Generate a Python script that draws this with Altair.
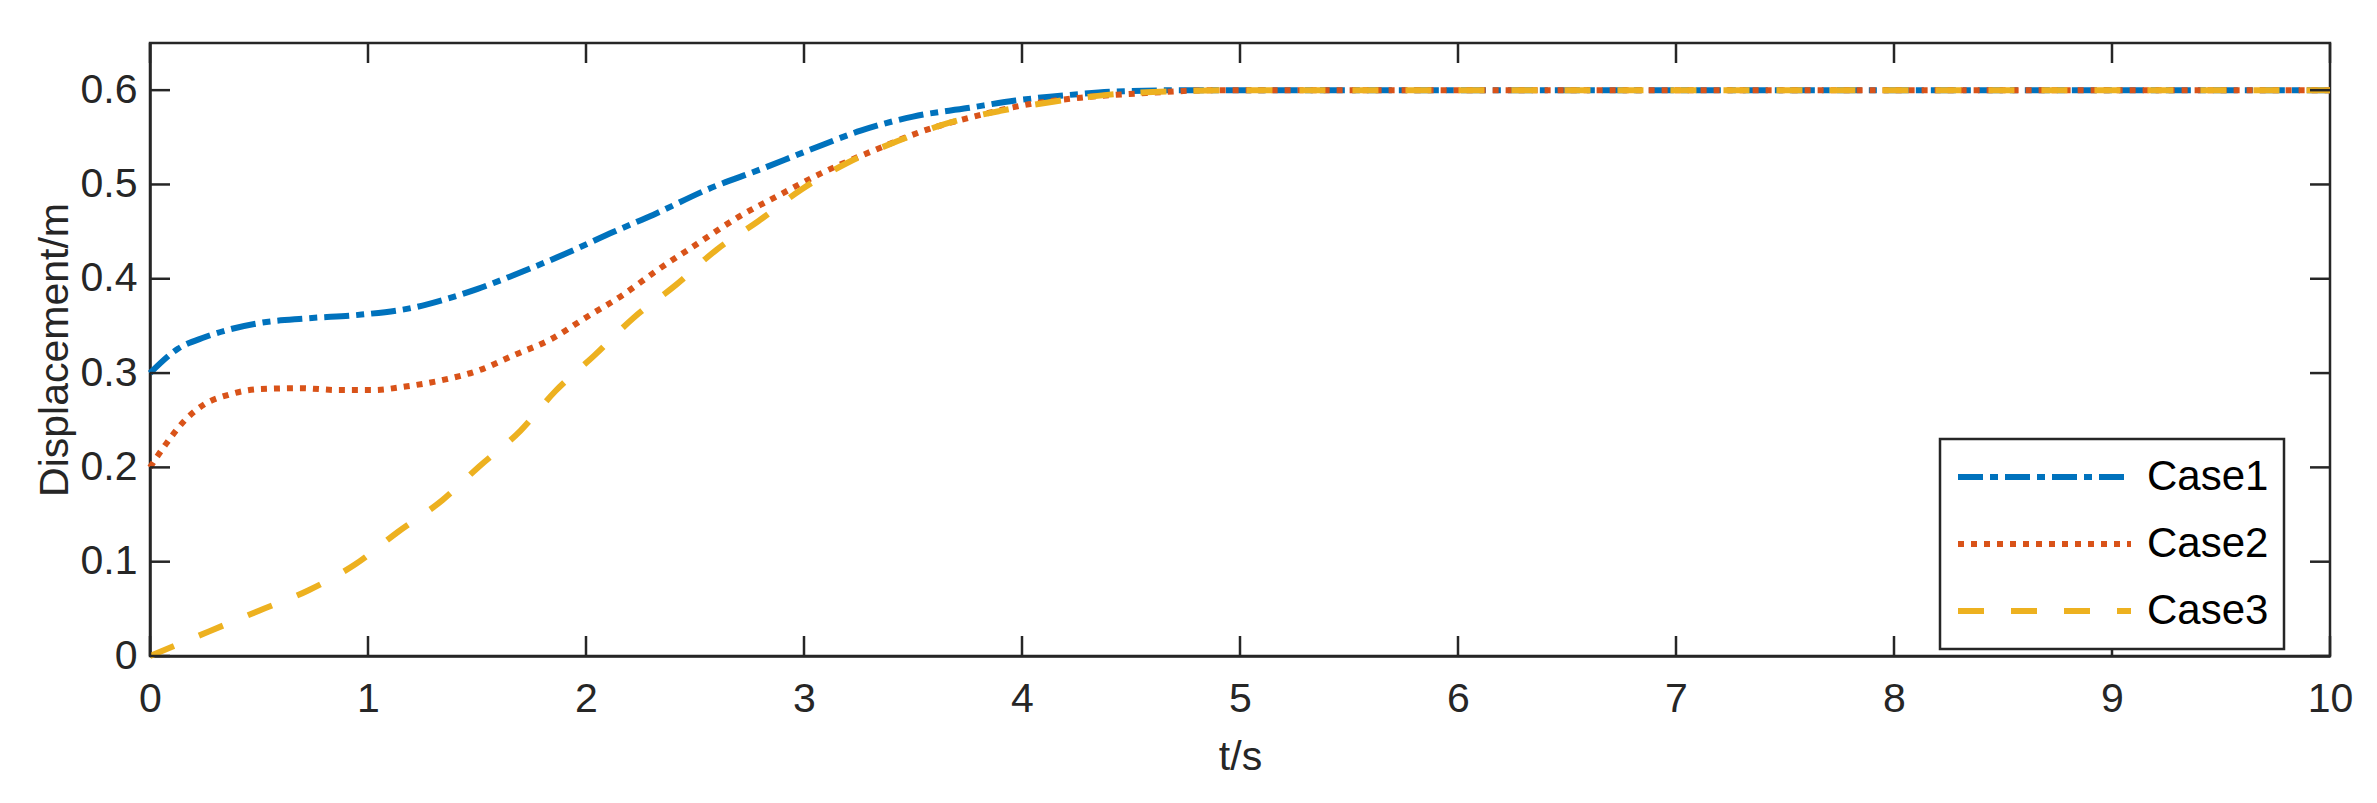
import altair as alt
import pandas as pd

# ---- data ----
case_names = ["Case1", "Case2", "Case3"]

case1_t = [0, 0.13, 0.25, 0.36, 0.5, 0.72, 0.97, 1.22, 1.35, 1.5, 1.67, 1.9, 2.13, 2.31,
           2.56, 2.8, 3.03, 3.26, 3.5, 3.75, 3.97, 4.22, 4.48, 4.8, 10]
case1_v = [0.300, 0.326, 0.338, 0.346, 0.353, 0.358, 0.362, 0.370, 0.378, 0.389, 0.404,
           0.426, 0.450, 0.468, 0.495, 0.516, 0.537, 0.557, 0.572, 0.581, 0.589, 0.595,
           0.599, 0.600, 0.600]

case2_t = [0, 0.08, 0.16, 0.25, 0.36, 0.5, 0.69, 0.86, 1.02, 1.18, 1.35, 1.51, 1.67, 1.84,
           2.0, 2.17, 2.32, 2.51, 2.71, 2.88, 3.08, 3.33, 3.55, 3.78, 4.03, 4.27, 4.57, 4.9, 10]
case2_v = [0.200, 0.227, 0.250, 0.267, 0.277, 0.283, 0.284, 0.282, 0.282, 0.286, 0.293,
           0.303, 0.319, 0.336, 0.359, 0.383, 0.408, 0.437, 0.467, 0.488, 0.512, 0.537,
           0.557, 0.572, 0.585, 0.592, 0.597, 0.600, 0.600]

case3_t = [0, 0.27, 0.5, 0.73, 0.94, 1.14, 1.34, 1.51, 1.70, 1.86, 2.04, 2.22, 2.41, 2.60,
           2.79, 2.99, 3.20, 3.43, 3.66, 3.90, 4.15, 4.39, 4.71, 5.0, 10]
case3_v = [0.000, 0.026, 0.048, 0.070, 0.097, 0.132, 0.165, 0.201, 0.239, 0.281, 0.319,
           0.359, 0.393, 0.431, 0.461, 0.495, 0.523, 0.546, 0.565, 0.578, 0.588, 0.595,
           0.599, 0.600, 0.600]

x_ticks = [0, 1, 2, 3, 4, 5, 6, 7, 8, 9, 10]
y_ticks = [0, 0.1, 0.2, 0.3, 0.4, 0.5, 0.6]

x_title = "t/s"
y_title = "Displacement/m"

colors = ["#0072BD", "#D95319", "#EDB120"]
dashes = [[25, 7, 8, 7], [6, 7], [26, 27]]

# ---- tables ----
rows = []
for name, ts, vs in zip(case_names, [case1_t, case2_t, case3_t], [case1_v, case2_v, case3_v]):
    for t, v in zip(ts, vs):
        rows.append({"case": name, "t": t, "v": v})
df = pd.DataFrame(rows)
xt_df = pd.DataFrame({"t": x_ticks})
yt_df = pd.DataFrame({"v": y_ticks})

W, H = 2180, 613
AX = "#262626"
FONT = "Liberation Sans"

xscale = alt.Scale(domain=[0, 10], nice=False, zero=False)
yscale = alt.Scale(domain=[0, 0.65], nice=False, zero=False)

xaxis = alt.Axis(values=x_ticks, title=x_title, ticks=False, grid=False, labelPadding=23,
                 titlePadding=18, format="~g", labelFlush=False)
yaxis = alt.Axis(values=y_ticks, title=y_title, ticks=False, grid=False, labelPadding=13,
                 titlePadding=4, format="~g", labelFlush=False)

legend_opts = dict(title=None, orient="none", legendX=1790, legendY=396,
                   symbolType="stroke", symbolSize=29929, symbolStrokeWidth=6,
                   clipHeight=46, padding=15, rowPadding=21, labelOffset=13,
                   labelFontSize=42, labelFont=FONT, labelColor="#000000",
                   strokeColor=AX, fillColor="#ffffff")

lines = alt.Chart(df).mark_line(strokeWidth=6, interpolate="monotone").encode(
    x=alt.X("t:Q", scale=xscale, axis=xaxis),
    y=alt.Y("v:Q", scale=yscale, axis=yaxis),
    color=alt.Color("case:N", scale=alt.Scale(domain=case_names, range=colors),
                    legend=alt.Legend(**legend_opts)),
    strokeDash=alt.StrokeDash("case:N", scale=alt.Scale(domain=case_names, range=dashes),
                              legend=alt.Legend(**legend_opts)),
    order=alt.Order("t:Q"),
)

tick_style = dict(color=AX, strokeWidth=2.5)
bottom_ticks = alt.Chart(xt_df).mark_rule(**tick_style).encode(
    x=alt.X("t:Q", scale=xscale), y=alt.value(H), y2=alt.value(H - 20))
top_ticks = alt.Chart(xt_df).mark_rule(**tick_style).encode(
    x=alt.X("t:Q", scale=xscale), y=alt.value(0), y2=alt.value(20))
left_ticks = alt.Chart(yt_df).mark_rule(**tick_style).encode(
    y=alt.Y("v:Q", scale=yscale), x=alt.value(0), x2=alt.value(20))
right_ticks = alt.Chart(yt_df).mark_rule(**tick_style).encode(
    y=alt.Y("v:Q", scale=yscale), x=alt.value(W), x2=alt.value(W - 20))

chart = alt.layer(lines, bottom_ticks, top_ticks, left_ticks, right_ticks).properties(
    width=W, height=H,
    autosize=alt.AutoSizeParams(type="none"),
    padding={"left": 142, "top": 35, "right": 30, "bottom": 130},
).configure_view(
    stroke=AX, strokeWidth=2.5
).configure_axis(
    domainColor=AX, domainWidth=2.5,
    labelFont=FONT, labelFontSize=41, labelColor=AX,
    titleFont=FONT, titleFontSize=41, titleColor=AX, titleFontWeight="normal",
).configure_legend(
    strokeWidth=2.5
)

chart.save("out.html", embed_options={"renderer": "svg", "actions": False})
